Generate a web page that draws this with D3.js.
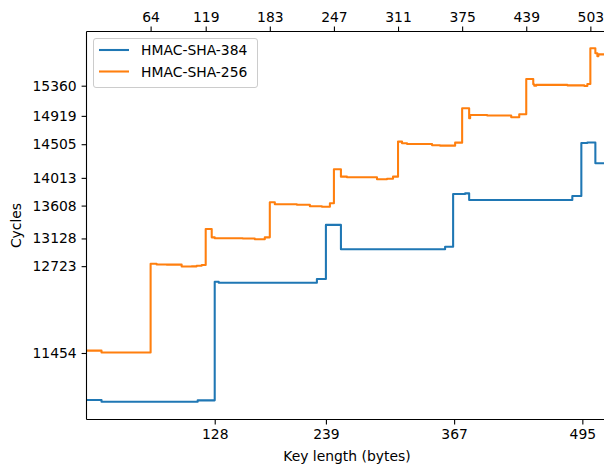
<!DOCTYPE html>
<html><head><meta charset="utf-8">
<script src="https://cdn.jsdelivr.net/npm/d3@7"></script>
<style>
html,body{margin:0;padding:0;background:#fff;overflow:hidden}
text{font-family:"DejaVu Sans",sans-serif;fill:#000}
</style></head>
<body>
<script>
// Step breakpoints: key length (bytes) where the cycle count changes
const sha384Keys   = [0,15,111,128,132,230,239,254,358,366,378,382,485,494,500,508,520];
const sha384Cycles = [10767,10742,10762,12496,12481,12535,13326,12969,13007,13777,13787,13690,13748,14523,14530,14226,14226];
const sha256Keys   = [0,15,64,70,80,95,105,110,115,119,125,128,156,168,178,183,188,210,223,235,243,247,254,260,290,300,306,311,315,320,345,353,368,375,382,383,400,424,432,439,446,447,449,480,497,500,503,508,510,511,520];
const sha256Cycles = [11488,11461,12757,12748,12745,12718,12720,12730,12740,13266,13144,13130,13128,13115,13144,13656,13627,13620,13598,13592,13641,14138,14031,14022,13992,14000,14031,14543,14519,14509,14490,14484,14528,15030,14884,14933,14925,14899,14942,15458,15380,15360,15372,15365,15355,15384,15906,15833,15790,15818,15818];
const seriesNames  = ["HMAC-SHA-384","HMAC-SHA-256"];
const seriesColors = ["#1f77b4","#ff7f0e"];
const yTicks       = [11454,12723,13128,13608,14013,14505,14919,15360];
const bottomTicks  = [128,239,367,495];
const topTicks     = [64,119,183,247,311,375,439,503];
const xDomain      = [0,520];
const yDomain      = [10482,16152];

const W=604,H=467;
const L=86.5,T=31.5,B=419.5,R=L+520*1.0017;
const svg=d3.select("body").append("svg").attr("width",W).attr("height",H);
const x=d3.scaleLinear().domain(xDomain).range([L,R]);
const y=d3.scaleLinear().domain(yDomain).range([B,T]);

svg.append("defs").append("clipPath").attr("id","clip")
  .append("rect").attr("x",L).attr("y",T).attr("width",R-L).attr("height",B-T);

const line=d3.line().x(d=>x(d[0])).y(d=>y(d[1])).curve(d3.curveStepAfter);
const data=[
  d3.zip(sha384Keys,sha384Cycles),
  d3.zip(sha256Keys,sha256Cycles)
];
const g=svg.append("g").attr("clip-path","url(#clip)");
data.forEach((d,i)=>{
  g.append("path").datum(d).attr("d",line).attr("fill","none")
   .attr("stroke",seriesColors[i]).attr("stroke-width",2.08)
   .attr("stroke-linejoin","round").attr("stroke-linecap","square");
});

// axes
const fs="13.9px";
function styleAxis(sel){
  sel.select(".domain").remove();
  sel.selectAll(".tick line").attr("stroke","#000").attr("stroke-width",1.1);
  sel.selectAll(".tick text").style("font-size",fs).attr("fill","#262626");
}
const ax1=svg.append("g").attr("transform",`translate(0,${B})`)
  .call(d3.axisBottom(x).tickValues(bottomTicks).tickSize(4.9).tickPadding(4.9).tickFormat(d3.format("d")));
styleAxis(ax1);
const ax2=svg.append("g").attr("transform",`translate(0,${T})`)
  .call(d3.axisTop(x).tickValues(topTicks).tickSize(4.9).tickPadding(4.9).tickFormat(d3.format("d")));
styleAxis(ax2);
const ay=svg.append("g").attr("transform",`translate(${L},0)`)
  .call(d3.axisLeft(y).tickValues(yTicks).tickSize(4.9).tickPadding(4.9).tickFormat(d3.format("d")));
styleAxis(ay);

// spines
svg.append("line").attr("x1",L).attr("x2",L).attr("y1",T).attr("y2",B).attr("stroke","#000").attr("stroke-width",1.1);
svg.append("line").attr("x1",L).attr("x2",R).attr("y1",B).attr("y2",B).attr("stroke","#000").attr("stroke-width",1.1);
svg.append("line").attr("x1",L).attr("x2",R).attr("y1",T).attr("y2",T).attr("stroke","#000").attr("stroke-width",1.1);
svg.append("line").attr("x1",R).attr("x2",R).attr("y1",T).attr("y2",B).attr("stroke","#000").attr("stroke-width",1.1);

// labels
svg.append("text").attr("x",(L+R)/2).attr("y",461).attr("text-anchor","middle").style("font-size",fs).text("Key length (bytes)");
svg.append("text").attr("transform",`translate(21,${(T+B)/2}) rotate(-90)`).attr("text-anchor","middle").style("font-size",fs).text("Cycles");

// legend
const lg=svg.append("g");
lg.append("rect").attr("x",93.5).attr("y",38.5).attr("width",164).attr("height",49).attr("rx",2.5)
  .attr("fill","#fff").attr("fill-opacity",0.8).attr("stroke","#cccccc").attr("stroke-width",1);
seriesNames.forEach((n,i)=>{
  const cy=50+i*21.5;
  lg.append("line").attr("x1",99).attr("x2",129).attr("y1",cy).attr("y2",cy)
    .attr("stroke",seriesColors[i]).attr("stroke-width",2.08);
  lg.append("text").attr("x",141).attr("y",cy+5).style("font-size",fs).text(n);
});
</script>
</body></html>
